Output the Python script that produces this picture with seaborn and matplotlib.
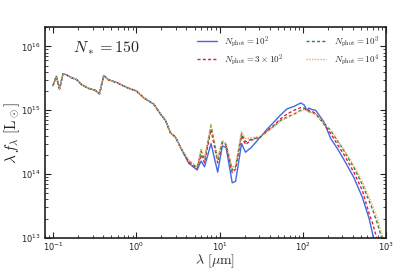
import numpy as np
import pandas as pd
import matplotlib
matplotlib.use("Agg")
import matplotlib.pyplot as plt
import seaborn as sns

# wavelengths in micron
lam = [0.099, 0.109, 0.119, 0.131, 0.143, 0.168, 0.193, 0.22, 0.266, 0.32,
       0.36, 0.404, 0.46, 0.585, 0.70, 0.81, 1.0, 1.22, 1.62, 1.95,
       2.24, 2.57, 2.95, 3.4, 4.27, 5.37, 6.0, 6.6, 7.9, 9.5,
       10.8, 12.0, 14.2, 15.6, 18.4, 20.5, 24, 31, 37.6, 45,
       54, 65, 79, 95, 105, 112, 119, 130, 143, 181,
       217, 262, 315, 415, 523, 630, 692, 794, 912, 1000]

uv = [2.4e15, 3.4e15, 2.15e15, 3.7e15, 3.6e15, 3.2e15, 3.0e15, 2.5e15, 2.2e15, 2.05e15,
      1.8e15, 3.5e15, 3.0e15, 2.7e15, 2.4e15, 2.2e15, 2.0e15, 1.57e15, 1.24e15, 8.7e14,
      6.9e14, 4.4e14, 3.8e14, 2.6e14]

flux_1e2 = uv + [1.48e14, 1.16e14, 1.6e14, 1.3e14, 3.0e14, 1.07e14,
                 2.76e14, 2.6e14, 7.3e13, 7.7e13, 3.0e14, 2.2e14, 2.6e14, 3.8e14, 5.1e14, 6.5e14,
                 8.4e14, 1.05e15, 1.15e15, 1.3e15, 1.2e15, 1.0e15, 1.08e15, 1.02e15, 1.0e15, 6.5e14,
                 3.6e14, 2.5e14, 1.66e14, 8.7e13, 4.3e13, 2.0e13, 1.17e13, 4e12, 1.5e12, 8e11]
flux_3e2 = uv + [1.5e14, 1.2e14, 2.0e14, 1.5e14, 5.0e14, 1.5e14,
                 3.1e14, 2.8e14, 1.05e14, 1.2e14, 4.0e14, 2.9e14, 3.4e14, 3.8e14, 4.8e14, 5.8e14,
                 7.3e14, 8.7e14, 1.0e15, 1.1e15, 1.08e15, 9.8e14, 1.0e15, 9.5e14, 8.9e14, 6.0e14,
                 4.3e14, 2.9e14, 2.0e14, 1.05e14, 5.5e13, 2.4e13, 1.7e13, 9e12, 4e12, 2.5e12]
flux_1e3 = uv + [1.6e14, 1.26e14, 2.3e14, 1.7e14, 5.7e14, 1.66e14,
                 3.2e14, 2.9e14, 1.16e14, 1.3e14, 4.3e14, 3.2e14, 3.5e14, 3.8e14, 4.7e14, 5.6e14,
                 6.9e14, 7.8e14, 8.7e14, 1.0e15, 1.04e15, 1.0e15, 9.5e14, 9.2e14, 8.7e14, 6.2e14,
                 4.8e14, 3.3e14, 2.3e14, 1.25e14, 6.8e13, 3.8e13, 2.8e13, 1.66e13, 9e12, 5.5e12]
flux_1e4 = uv + [1.65e14, 1.3e14, 2.5e14, 1.8e14, 6.0e14, 1.75e14,
                 3.4e14, 3.0e14, 1.25e14, 1.4e14, 4.6e14, 3.6e14, 3.7e14, 3.9e14, 4.6e14, 5.5e14,
                 6.7e14, 7.6e14, 8.6e14, 9.8e14, 1.02e15, 9.9e14, 9.4e14, 9.1e14, 8.6e14, 6.3e14,
                 4.9e14, 3.4e14, 2.4e14, 1.35e14, 7.5e13, 4.3e13, 3.2e13, 2.0e13, 1.05e13, 6.5e12]

labels = [r"$N_{\rm phot}=10^2$", r"$N_{\rm phot}=3\times10^2$",
          r"$N_{\rm phot}=10^3$", r"$N_{\rm phot}=10^4$"]
series = [flux_1e2, flux_3e2, flux_1e3, flux_1e4]
colors = ["#4169e1", "#e8173f", "#1f8a3a", "#f2a66a"]
styles = ["-", (0, (2.2, 1.6)), (0, (2.2, 1.6)), (0, (1, 1))]

sns.set_style("ticks", {"xtick.direction": "in", "ytick.direction": "in"})
plt.rcParams["mathtext.fontset"] = "cm"
plt.rcParams["font.family"] = ["DejaVu Sans"]

fig = plt.figure(figsize=(4.07, 2.71), dpi=100)
ax = fig.add_axes([0.111, 0.122, 0.837, 0.778])

for y, lab, c, ls in zip(series, labels, colors, styles):
    sns.lineplot(x=lam, y=y, ax=ax, color=c, label=lab, linewidth=1.0,
                 linestyle=ls, sort=False)

ax.set_xscale("log")
ax.set_yscale("log")
ax.set_xlim(0.08, 1000)
ax.set_ylim(1e13, 2e16)
ax.set_xlabel(r"$\lambda\ [\mu{\rm m}]$", fontsize=10, va="top")
ax.xaxis.set_label_coords(0.5, -0.068)
ax.set_ylabel(r"$\lambda\, f_\lambda\ [{\rm L}_\odot]$", fontsize=11)
ax.yaxis.set_label_coords(-0.068, 0.5)
ax.text(0.083, 0.9, r"$N_* = 150$", transform=ax.transAxes, fontsize=11.5, va="center")

ax.tick_params(which="both", top=True, right=True, labelsize=6, colors="#222222")
ax.tick_params(axis="x", pad=2)
ax.tick_params(axis="y", pad=3)
ax.tick_params(which="major", length=4, width=0.8)
ax.tick_params(which="minor", length=2, width=0.6)
for s in ax.spines.values():
    s.set_linewidth(1.2)
    s.set_color("#222222")

ax.legend(loc="upper right", ncol=2, frameon=False, fontsize=6.5,
          handlelength=2.2, columnspacing=2.5, labelspacing=0.3, borderaxespad=0.4)

fig.savefig("out.png", dpi=100)
